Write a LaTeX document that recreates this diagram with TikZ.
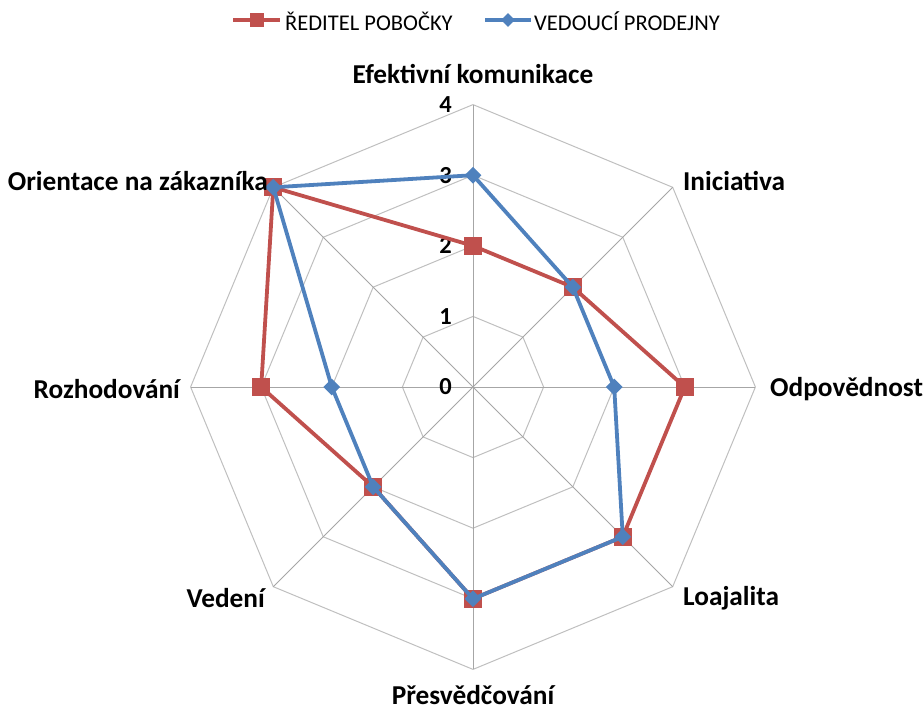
\documentclass[tikz,border=0pt]{standalone}
\usepackage{fontspec}
\setmainfont{Carlito}
\usetikzlibrary{shapes.geometric}
\definecolor{redser}{HTML}{C0504D}
\definecolor{blueser}{HTML}{4F81BD}
\definecolor{gridc}{HTML}{BFBFBF}
\definecolor{axisc}{HTML}{A6A6A6}
\begin{document}
\begin{tikzpicture}[x=1pt,y=-1pt,
  gridline/.style={draw=gridc,line width=1pt},
  spoke/.style={draw=axisc,line width=1pt},
  redline/.style={draw=redser,line width=3.8pt,line join=round},
  blueline/.style={draw=blueser,line width=3.8pt,line join=round},
  redmark/.style={rectangle,fill=redser,minimum size=18pt,inner sep=0pt},
  bluemark/.style={diamond,fill=blueser,minimum size=17pt,inner sep=0pt},
  catlabel/.style={font=\fontsize{27.3}{31}\selectfont\bfseries,inner sep=0pt},
  ticklabel/.style={font=\fontsize{24.5}{28}\selectfont\bfseries,inner sep=0pt,anchor=east},
  legtext/.style={font=\fontsize{22.5}{26}\selectfont,inner sep=0pt,anchor=west}]
\useasboundingbox (0,0) rectangle (923,711);
\def\cx{473}\def\cy{387}\def\un{70.6}
\coordinate (c) at (\cx,\cy);
% grid
\foreach \r in {1,2,3,4}{
  \draw[gridline] ({\cx},{\cy-\un*\r})
    \foreach \k in {1,...,7}{ -- ({\cx+\un*\r*cos(90-45*\k)},{\cy-\un*\r*sin(90-45*\k)}) } -- cycle;
}
\foreach \k in {0,...,7}{
  \coordinate (g\k) at ({\cx+\un*4*cos(90-45*\k)},{\cy-\un*4*sin(90-45*\k)});
  \draw[spoke] (c) -- (g\k);
}
% tick labels
\foreach \r in {0,1,2,3,4}{
  \node[ticklabel] (t\r) at (452,{\cy-\un*\r}) {\r};
}
% data
\foreach \k/\rv/\bv in {0/2/3,1/2/2,2/3/2,3/3/3,4/3/3,5/2/2,6/3/2,7/4/4}{
  \coordinate (r\k) at ({\cx+\un*\rv*cos(90-45*\k)},{\cy-\un*\rv*sin(90-45*\k)});
  \coordinate (b\k) at ({\cx+\un*\bv*cos(90-45*\k)},{\cy-\un*\bv*sin(90-45*\k)});
}
\draw[redline] (r0)--(r1)--(r2)--(r3)--(r4)--(r5)--(r6)--(r7)--cycle;
\foreach \k in {0,...,7}{ \node[redmark] (rm\k) at (r\k) {}; }
\draw[blueline] (b0)--(b1)--(b2)--(b3)--(b4)--(b5)--(b6)--(b7)--cycle;
\foreach \k in {0,...,7}{ \node[bluemark] (bm\k) at (b\k) {}; }
% category labels
\node[catlabel,anchor=south] (l0) at (473,84) {Efektivní komunikace};
\node[catlabel,anchor=west] (l1) at (683,181) {Iniciativa};
\node[catlabel,anchor=west] (l2) at (770,389) {Odpovědnost};
\node[catlabel,anchor=west] (l3) at (683,598) {Loajalita};
\node[catlabel,anchor=north] (l4) at (473,685) {Přesvědčování};
\node[catlabel,anchor=east] (l5) at (265,598) {Vedení};
\node[catlabel,anchor=east] (l6) at (180,389) {Rozhodování};
\node[catlabel,anchor=east] (l7) at (268,181) {Orientace na zákazníka};
% legend
\coordinate (la1) at (233,20);
\coordinate (la2) at (280,20);
\draw[redline] (la1) -- (la2);
\node[redmark,minimum size=14pt] (lm1) at (256.5,20) {};
\node[legtext] (lt1) at (285,21) {ŘEDITEL POBOČKY};
\coordinate (lb1) at (485,20);
\coordinate (lb2) at (531,20);
\draw[blueline] (lb1) -- (lb2);
\node[bluemark,minimum size=14pt] (lm2) at (508,20) {};
\node[legtext] (lt2) at (534,21) {VEDOUCÍ PRODEJNY};
\end{tikzpicture}
\end{document}
